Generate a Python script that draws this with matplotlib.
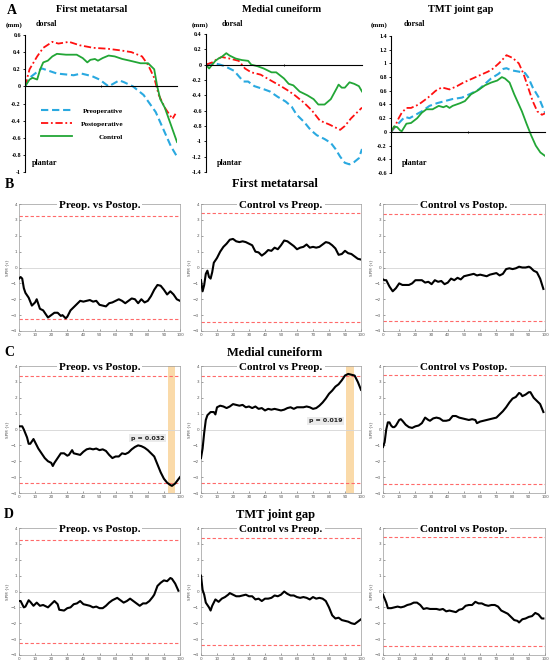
import matplotlib
matplotlib.use("Agg")
import matplotlib.pyplot as plt

W, H = 550, 666
SERIF = "Liberation Serif"

# ---------------- Panel A data (mm) ----------------
fm_pre_x = [0, 3, 11, 21, 32, 37, 44, 49, 55, 62, 65, 71, 78, 86, 91, 96, 100]
fm_pre_y = [0, 0.1, 0.21, 0.15, 0.13, 0.15, 0.12, 0.08, 0.0, 0.07, 0.05, 0.0, -0.1, -0.3, -0.5, -0.7, -0.82]
fm_post_x = [0, 3, 8, 12, 18, 22, 29, 36, 45, 54, 63, 70, 77, 81, 85, 88, 92, 97, 99]
fm_post_y = [0, 0.2, 0.35, 0.45, 0.52, 0.5, 0.52, 0.48, 0.45, 0.44, 0.42, 0.4, 0.35, 0.25, 0.1, -0.1, -0.25, -0.38, -0.32]
fm_ctrl_x = [0, 3, 5, 8, 10, 12, 15, 18, 21, 27, 34, 38, 41, 43, 46, 48, 51, 55, 59, 64, 69, 76, 81, 85, 87, 89, 92, 96, 100]
fm_ctrl_y = [0, 0.08, 0.1, 0.08, 0.2, 0.28, 0.3, 0.35, 0.38, 0.37, 0.37, 0.33, 0.28, 0.31, 0.32, 0.3, 0.33, 0.36, 0.35, 0.32, 0.3, 0.27, 0.27, 0.2, 0.0, -0.15, -0.25, -0.45, -0.65]

mc_pre_x = [0, 5, 9, 12, 18, 21, 24, 27, 31, 37, 41, 46, 51, 55, 58, 63, 67, 71, 76, 80, 83, 86, 89, 92, 95, 98, 100]
mc_pre_y = [0, 0.02, 0.0, -0.02, -0.08, -0.15, -0.22, -0.22, -0.28, -0.32, -0.35, -0.42, -0.48, -0.55, -0.65, -0.75, -0.85, -0.92, -0.97, -1.02, -1.1, -1.2, -1.28, -1.3, -1.27, -1.22, -1.1]
mc_post_x = [0, 4, 7, 10, 15, 21, 25, 29, 35, 41, 48, 52, 57, 63, 68, 73, 79, 83, 86, 89, 93, 97, 100]
mc_post_y = [0, 0.03, 0.07, 0.1, 0.08, 0.05, -0.05, -0.1, -0.13, -0.2, -0.28, -0.33, -0.4, -0.5, -0.6, -0.73, -0.78, -0.82, -0.85, -0.8, -0.7, -0.62, -0.56]
mc_ctrl_x = [0, 2, 4, 6, 8, 10, 13, 15, 19, 23, 27, 29, 33, 37, 42, 45, 50, 53, 56, 60, 65, 69, 72, 76, 80, 84, 85, 87, 89, 92, 95, 98, 100]
mc_ctrl_y = [0, -0.05, 0.0, 0.05, 0.08, 0.1, 0.15, 0.12, 0.08, 0.06, 0.05, 0.0, -0.02, -0.05, -0.1, -0.1, -0.18, -0.25, -0.27, -0.35, -0.4, -0.45, -0.52, -0.52, -0.45, -0.3, -0.26, -0.3, -0.3, -0.23, -0.25, -0.28, -0.35]

tmt_pre_x = [0, 3, 6, 9, 12, 16, 20, 25, 30, 35, 40, 46, 49, 52, 57, 61, 65, 70, 73, 75, 78, 83, 87, 89, 92, 96, 100]
tmt_pre_y = [0, 0.08, 0.15, 0.22, 0.2, 0.25, 0.3, 0.38, 0.42, 0.45, 0.48, 0.5, 0.53, 0.56, 0.62, 0.7, 0.78, 0.85, 0.92, 0.93, 0.9, 0.88, 0.86, 0.8, 0.65, 0.5, 0.28]
tmt_post_x = [0, 3, 5, 7, 10, 13, 18, 21, 24, 29, 33, 38, 43, 47, 52, 58, 63, 66, 70, 73, 75, 79, 83, 86, 89, 92, 95, 98, 100]
tmt_post_y = [0, 0.1, 0.2, 0.28, 0.35, 0.35, 0.4, 0.45, 0.5, 0.6, 0.65, 0.62, 0.67, 0.72, 0.77, 0.83, 0.88, 0.92, 1.0, 1.07, 1.12, 1.08, 1.0, 0.85, 0.65, 0.45, 0.3, 0.25, 0.27]
tmt_ctrl_x = [0, 2, 4, 6, 7, 10, 13, 17, 20, 23, 27, 31, 34, 36, 38, 40, 45, 48, 52, 56, 61, 65, 69, 72, 74, 77, 80, 85, 88, 91, 94, 97, 100]
tmt_ctrl_y = [0, 0.08, 0.07, 0.02, 0.01, 0.12, 0.13, 0.2, 0.28, 0.33, 0.33, 0.38, 0.36, 0.38, 0.35, 0.38, 0.42, 0.45, 0.55, 0.6, 0.68, 0.72, 0.75, 0.8, 0.78, 0.72, 0.55, 0.3, 0.12, -0.05, -0.2, -0.3, -0.35]

# ---------------- SPM {t} data ----------------
b1_x = [0, 1, 2, 3, 4, 6, 8, 10, 11, 13, 15, 17, 18, 20, 22, 24, 26, 27, 29, 30, 32, 34, 36, 38, 40, 42, 44, 46, 48, 50, 52, 54, 56, 58, 60, 62, 64, 66, 68, 70, 72, 74, 76, 78, 80, 82, 84, 86, 88, 90, 92, 94, 96, 98, 100]
b1_y = [-0.7, -0.6, -0.7, -1.3, -1.6, -1.9, -2.4, -2.2, -2.0, -2.6, -2.7, -3.0, -3.15, -3.0, -2.85, -2.85, -3.05, -3.0, -3.2, -3.1, -2.7, -2.5, -2.3, -2.1, -2.15, -2.1, -2.05, -2.15, -2.1, -2.35, -2.4, -2.45, -2.25, -2.2, -2.1, -2.0, -2.1, -2.25, -2.1, -1.95, -2.0, -2.25, -2.0, -2.2, -2.1, -1.8, -1.4, -1.1, -1.15, -1.4, -1.7, -1.5, -1.7, -2.0, -2.1]
b2_x = [0, 1, 2, 3, 4, 5, 6, 7, 8, 10, 12, 14, 16, 18, 20, 22, 24, 26, 28, 30, 32, 34, 36, 38, 40, 42, 44, 46, 48, 50, 52, 54, 56, 58, 60, 62, 64, 66, 68, 70, 72, 74, 76, 78, 80, 82, 84, 86, 88, 90, 92, 94, 96, 98, 100]
b2_y = [-0.8, -1.5, -1.1, -0.4, -0.2, -0.6, -0.7, -0.3, 0.3, 0.6, 1.0, 1.3, 1.5, 1.75, 1.8, 1.65, 1.6, 1.65, 1.6, 1.5, 1.4, 1.0, 0.95, 0.75, 0.9, 1.1, 1.05, 1.25, 1.15, 1.4, 1.7, 1.65, 1.5, 1.35, 1.15, 1.25, 1.3, 1.45, 1.25, 1.3, 1.25, 1.3, 1.45, 1.6, 1.55, 1.4, 1.2, 0.8, 0.85, 1.05, 0.9, 0.85, 0.7, 0.55, 0.5]
b3_x = [0, 1, 2, 4, 6, 8, 10, 12, 14, 16, 18, 20, 22, 24, 26, 28, 30, 32, 34, 36, 38, 40, 42, 44, 46, 48, 50, 52, 54, 56, 58, 60, 62, 64, 66, 68, 70, 72, 74, 76, 78, 80, 82, 84, 86, 88, 90, 91, 93, 95, 97, 99]
b3_y = [-0.75, -0.8, -0.8, -1.2, -1.5, -1.3, -1.0, -1.1, -1.1, -1.1, -1.0, -0.8, -0.8, -0.8, -0.95, -0.9, -1.05, -0.8, -0.9, -0.85, -1.05, -0.95, -0.7, -0.8, -0.65, -0.75, -0.55, -0.5, -0.45, -0.4, -0.5, -0.45, -0.5, -0.55, -0.45, -0.4, -0.35, -0.5, -0.4, -0.1, -0.05, -0.1, -0.05, 0.05, 0.0, 0.0, 0.05, 0.0, -0.2, -0.3, -0.7, -1.35]

c1_x = [0, 2, 3, 5, 6, 7, 9, 10, 12, 14, 16, 18, 20, 21, 22, 24, 26, 28, 30, 31, 33, 34, 36, 38, 40, 42, 44, 46, 48, 50, 52, 54, 56, 58, 60, 62, 64, 66, 68, 70, 72, 74, 76, 78, 80, 82, 84, 86, 88, 90, 92, 94, 95, 97, 100]
c1_y = [0.2, 0.2, 0.0, -0.5, -0.9, -0.9, -0.6, -0.8, -1.2, -1.5, -1.8, -2.0, -2.1, -2.3, -2.1, -1.8, -1.5, -1.5, -1.65, -1.6, -1.3, -1.5, -1.55, -1.6, -1.4, -1.25, -1.2, -1.25, -1.2, -1.3, -1.25, -1.35, -1.6, -1.8, -1.7, -1.7, -1.5, -1.55, -1.45, -1.25, -1.1, -1.0, -1.05, -1.15, -1.3, -1.5, -1.7, -2.2, -2.7, -3.1, -3.35, -3.5, -3.55, -3.4, -3.0]
c2_x = [0, 1, 2, 3, 4, 6, 8, 9, 10, 12, 14, 16, 18, 20, 22, 24, 26, 28, 30, 32, 34, 36, 38, 40, 42, 44, 46, 48, 50, 52, 54, 56, 58, 60, 62, 64, 66, 68, 70, 72, 74, 76, 78, 80, 82, 84, 86, 88, 90, 92, 94, 96, 98, 100]
c2_y = [-1.8, -1.2, -0.2, 0.6, 0.9, 1.1, 1.1, 0.95, 1.4, 1.5, 1.45, 1.35, 1.45, 1.6, 1.55, 1.5, 1.55, 1.4, 1.45, 1.35, 1.45, 1.3, 1.35, 1.2, 1.3, 1.25, 1.3, 1.25, 1.2, 1.25, 1.35, 1.4, 1.3, 1.4, 1.4, 1.4, 1.45, 1.4, 1.3, 1.35, 1.5, 1.7, 1.95, 2.25, 2.45, 2.7, 2.85, 3.1, 3.4, 3.5, 3.45, 3.4, 3.0, 2.5]
c3_x = [0, 1, 2, 3, 4, 5, 6, 7, 8, 10, 11, 12, 14, 16, 18, 20, 22, 24, 26, 28, 29, 31, 33, 35, 37, 39, 41, 43, 45, 47, 49, 51, 53, 55, 57, 58, 60, 62, 64, 66, 68, 70, 72, 74, 76, 78, 80, 82, 84, 85, 86, 88, 90, 91, 93, 95, 97, 99]
c3_y = [-1.1, -0.8, 0.0, 0.45, 0.45, 0.25, 0.15, 0.15, 0.25, 0.6, 0.65, 0.55, 0.3, 0.15, 0.1, 0.2, 0.25, 0.4, 0.75, 0.6, 0.55, 0.7, 0.75, 0.7, 0.55, 0.55, 0.6, 0.85, 0.85, 0.75, 0.7, 0.65, 0.6, 0.65, 0.6, 0.4, 0.5, 0.55, 0.6, 0.65, 0.7, 0.75, 0.95, 1.15, 1.4, 1.7, 1.95, 2.05, 2.3, 2.25, 2.1, 2.2, 2.35, 2.35, 2.0, 1.8, 1.6, 1.1]

d1_x = [0, 1, 3, 4, 6, 7, 9, 11, 13, 15, 17, 18, 20, 22, 24, 25, 28, 30, 32, 34, 36, 38, 40, 42, 44, 46, 48, 50, 52, 54, 56, 58, 60, 61, 63, 65, 67, 69, 71, 73, 75, 77, 79, 81, 83, 84, 86, 88, 90, 92, 94, 95, 97, 99]
d1_y = [-0.6, -0.6, -1.0, -0.95, -0.55, -0.65, -0.9, -0.7, -0.9, -0.85, -0.95, -1.0, -0.8, -0.6, -0.8, -1.15, -1.2, -1.05, -1.0, -0.8, -0.75, -0.6, -0.8, -0.85, -0.9, -1.0, -0.95, -1.05, -1.05, -0.9, -0.7, -0.55, -0.45, -0.4, -0.55, -0.7, -0.6, -0.45, -0.6, -0.75, -0.9, -0.75, -0.75, -0.6, -0.35, -0.2, 0.35, 0.55, 0.7, 0.65, 0.85, 0.8, 0.5, 0.05]
d2_x = [0, 1, 2, 3, 5, 6, 7, 9, 11, 13, 15, 17, 18, 20, 22, 24, 26, 28, 30, 32, 34, 36, 38, 40, 42, 44, 46, 48, 50, 52, 54, 56, 58, 60, 62, 64, 66, 68, 70, 72, 74, 76, 78, 80, 82, 84, 86, 88, 90, 92, 94, 96, 98, 100]
d2_y = [1.0, 0.1, -0.2, -0.7, -1.0, -1.2, -0.9, -0.5, -0.65, -0.45, -0.35, -0.2, -0.1, -0.2, -0.3, -0.3, -0.25, -0.2, -0.3, -0.3, -0.5, -0.45, -0.6, -0.45, -0.45, -0.4, -0.25, -0.3, -0.2, 0.0, -0.15, -0.25, -0.25, -0.35, -0.4, -0.35, -0.4, -0.5, -0.35, -0.45, -0.4, -0.45, -0.6, -1.0, -1.5, -1.7, -1.65, -1.8, -1.85, -1.9, -2.0, -2.05, -1.9, -1.75]
d3_x = [0, 1, 2, 3, 5, 7, 9, 11, 13, 15, 17, 19, 21, 23, 25, 27, 29, 31, 33, 35, 37, 39, 41, 43, 45, 47, 49, 51, 53, 55, 57, 59, 61, 63, 65, 67, 69, 71, 73, 75, 77, 79, 81, 83, 84, 86, 88, 90, 92, 94, 96, 98, 99]
d3_y = [-0.2, -0.45, -0.7, -1.05, -1.05, -1.0, -0.95, -1.0, -0.95, -0.85, -0.8, -0.7, -0.7, -0.85, -1.1, -1.05, -1.1, -1.1, -1.1, -1.15, -1.1, -1.25, -1.2, -1.25, -1.3, -1.15, -1.1, -0.9, -0.85, -0.85, -0.65, -0.75, -0.75, -0.85, -0.9, -0.85, -0.85, -0.95, -1.2, -1.3, -1.4, -1.6, -1.8, -1.85, -1.95, -1.75, -1.7, -1.6, -1.55, -1.35, -1.45, -1.7, -1.7]

# critical thresholds (SPM t*)
crit_b = [3.24, 3.44, 3.38]
crit_c = [3.37, 3.40, 3.43]
crit_d = [3.25, 3.40, 3.43]

row_titles = ["First metatarsal", "Medial cuneiform", "TMT joint gap"]
col_titles = ["Preop. vs Postop.", "Control vs Preop.", "Control vs Postop."]

fig = plt.figure(figsize=(W / 100, H / 100), dpi=100)
fig.patch.set_facecolor("white")


def ax_px(l, t, r, b):
    return fig.add_axes([l / W, 1 - b / H, (r - l) / W, (b - t) / H])


def ftext(x, y, s, **kw):
    fig.text(x / W, 1 - y / H, s, **kw)


BLUE = "#2AA9E0"
RED = "#FF1010"
GREEN = "#22A636"

# -------- Panel A --------
a_specs = [
    ((25, 35, 177, 172), (-1.0, 0.6), [0.6, 0.4, 0.2, 0, -0.2, -0.4, -0.6, -0.8, -1],
     (fm_pre_x, fm_pre_y), (fm_post_x, fm_post_y), (fm_ctrl_x, fm_ctrl_y),
     "First metatarsal", 92, (14, 46, 45)),
    ((206, 34, 362, 172), (-1.4, 0.4), [0.4, 0.2, 0, -0.2, -0.4, -0.6, -0.8, -1, -1.2, -1.4],
     (mc_pre_x, mc_pre_y), (mc_post_x, mc_post_y), (mc_ctrl_x, mc_ctrl_y),
     "Medial cuneiform", 282, (200, 232, 230)),
    ((391, 36, 545, 173), (-0.6, 1.4), [1.4, 1.2, 1, 0.8, 0.6, 0.4, 0.2, 0, -0.2, -0.4, -0.6],
     (tmt_pre_x, tmt_pre_y), (tmt_post_x, tmt_post_y), (tmt_ctrl_x, tmt_ctrl_y),
     "TMT joint gap", 461, (379, 414, 415)),
]

leg = None
for i, (box, ylim, yt, pre, post, ctrl, title, tx, lab) in enumerate(a_specs):
    ax = ax_px(*box)
    ax.set_xlim(0, 100)
    ax.set_ylim(*ylim)
    for s in ["top", "right"]:
        ax.spines[s].set_visible(False)
    ax.spines["bottom"].set_position(("data", 0))
    ax.spines["left"].set_linewidth(0.8)
    ax.spines["bottom"].set_linewidth(0.8)
    ax.set_xticks([50])
    ax.set_xticklabels([])
    ax.tick_params(axis="x", length=2, width=0.6, direction="inout")
    ax.set_yticks(yt)
    ax.set_yticklabels([("%g" % v) for v in yt], fontsize=4.3, fontfamily=SERIF, fontweight="bold")
    ax.tick_params(axis="y", length=1.5, width=0.6, pad=1.5)
    l1, = ax.plot(pre[0], pre[1], color=BLUE, lw=1.5, ls=(0, (3.5, 1.8)), label="Preoperative")
    l2, = ax.plot(post[0], post[1], color=RED, lw=1.3, ls=(0, (4, 1.5, 1, 1.5)), label="Postoperative")
    l3, = ax.plot(ctrl[0], ctrl[1], color=GREEN, lw=1.3, label="Control")
    if i == 0:
        leg = ax.legend(handles=[l1, l2, l3], loc="upper left", bbox_to_anchor=(0.06, 0.52),
                        frameon=False, prop={"family": SERIF, "weight": "bold", "size": 5.3},
                        handlelength=4.2, handletextpad=1.2, labelspacing=0.95)
    ftext(tx, 9, title, ha="center", va="center", fontsize=7.5, fontfamily=SERIF, fontweight="bold")
    ftext(lab[0], 25, "(mm)", ha="center", va="center", fontsize=5, fontfamily=SERIF, fontweight="bold")
    ftext(lab[1], 24, "dorsal", ha="center", va="center", fontsize=5.8, fontfamily=SERIF, fontweight="bold")
    ftext(lab[2], 163, "plantar", ha="center", va="center", fontsize=5.8, fontfamily=SERIF, fontweight="bold")

# right-align legend labels as in the reference (shift each by its width deficit)
renderer = fig.canvas.get_renderer()
widths = [t.get_window_extent(renderer).width for t in leg.get_texts()]
maxw = max(widths)
for t, w in zip(leg.get_texts(), widths):
    t.set_position((maxw - w, 0))

ftext(12, 10, "A", ha="center", va="center", fontsize=10, fontfamily=SERIF, fontweight="bold")

# -------- SPM panels --------
cols_lr = [(19, 180), (201, 361), (383, 545)]
rows = [
    (204, 331, [(b1_x, b1_y), (b2_x, b2_y), (b3_x, b3_y)], crit_b, "B", 184, [None, None, None]),
    (366, 493, [(c1_x, c1_y), (c2_x, c2_y), (c3_x, c3_y)], crit_c, "C", 353,
     [((92.5, 97.0), "p = 0.032", (80, -0.55)), ((90.7, 95.7), "p = 0.019", (78, 0.54)), None]),
    (528, 655, [(d1_x, d1_y), (d2_x, d2_y), (d3_x, d3_y)], crit_d, "D", 515, [None, None, None]),
]

for r, (top, bot, curves, crits, letter, ty, extras) in enumerate(rows):
    ftext(9, ty, letter, ha="center", va="center", fontsize=10, fontfamily=SERIF, fontweight="bold")
    ftext(275, ty, row_titles[r], ha="center", va="center", fontsize=9, fontfamily=SERIF, fontweight="bold")
    for c in range(3):
        l, rr = cols_lr[c]
        ax = ax_px(l, top, rr, bot)
        ax.set_xlim(0, 100)
        ax.set_ylim(-4, 4)
        for s in ax.spines.values():
            s.set_color("#9a9a9a")
            s.set_linewidth(0.5)
        ax.set_xticks(range(0, 101, 10))
        ax.set_yticks(range(-4, 5))
        ax.tick_params(labelsize=3, colors="#555555", length=1.2, width=0.4, pad=1.5, direction="in")
        ax.set_ylabel("SPM {t}", fontsize=3, color="#555555", labelpad=1)
        ex = extras[c]
        if ex is not None:
            ax.axvspan(ex[0][0], ex[0][1], color="#FAD49A", alpha=0.85, lw=0, zorder=1)
        ax.axhline(0, color="#d5d5d5", lw=0.6, zorder=1)
        ax.axhline(crits[c], color="#FF6A6A", lw=0.8, ls=(0, (3, 2)), zorder=2)
        ax.axhline(-crits[c], color="#FF6A6A", lw=0.8, ls=(0, (3, 2)), zorder=2)
        ax.plot(curves[c][0], curves[c][1], color="black", lw=1.5, zorder=3)
        if ex is not None:
            ax.text(ex[2][0], ex[2][1], ex[1], ha="center", va="center", fontsize=4.5,
                    fontweight="bold", color="#222222", zorder=4,
                    bbox=dict(boxstyle="square,pad=0.25", fc="#EBEBEB", ec="none"))
        ax.text(0.5, 0.985, col_titles[c], transform=ax.transAxes, ha="center", va="center",
                fontsize=8, fontfamily=SERIF, fontweight="bold", zorder=5,
                bbox=dict(boxstyle="square,pad=0.2", fc="white", ec="none"))

fig.savefig("out.png", dpi=100, facecolor="white")
